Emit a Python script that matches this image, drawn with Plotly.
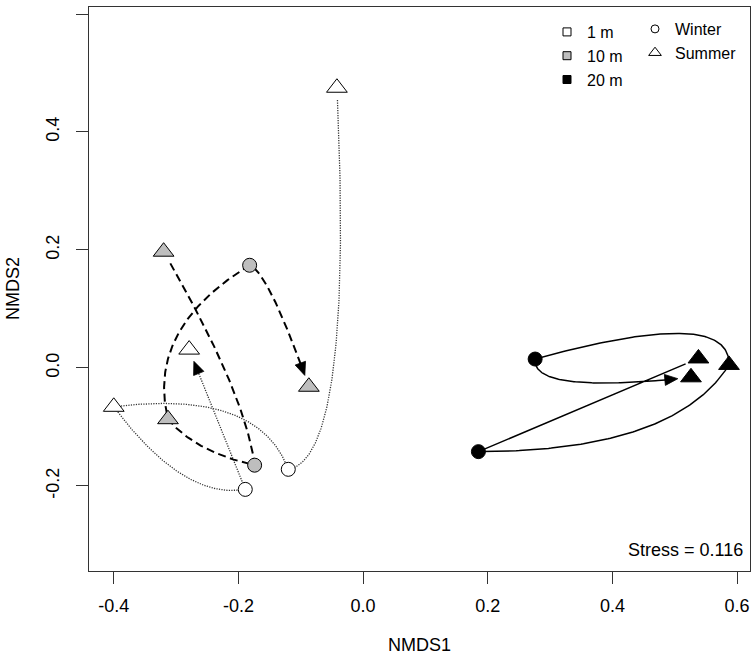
import numpy as np
import plotly.graph_objects as go

# ---------------- data (sampling order: Summer, Winter, Summer, Winter, Summer) ----------------
seasons = ["Summer", "Winter", "Summer", "Winter", "Summer"]
depths = ["1 m", "10 m", "20 m"]

x_1m = [-0.042, -0.120, -0.400, -0.189, -0.279]
y_1m = [0.475, -0.172, -0.066, -0.206, 0.031]

x_10m = [-0.320, -0.174, -0.313, -0.182, -0.087]
y_10m = [0.197, -0.165, -0.087, 0.174, -0.032]

x_20m = [0.538, 0.185, 0.587, 0.276, 0.526]
y_20m = [0.016, -0.142, 0.005, 0.015, -0.016]

stress = 0.116
x_ticks = [-0.4, -0.2, 0.0, 0.2, 0.4, 0.6]
y_ticks = [-0.2, 0.0, 0.2, 0.4, 0.6]

# ---------------- style: bend of each curved connector (px, + = left of travel) and skew ----
bend_1m = [(32, 0.95), (-33, 0.3), (-21, 0.7), (0, 0.5)]
bend_10m = [(10, 0.7), (8, 0.6), (31, 0.4), (7, 0.1)]
bend_20m = [(0, 0.5), (-32, 0.7), (-30, 0.0), (-18, 0.0)]

# ---------------- layout constants ----------------
W, H = 756, 657
ML, MR, MT, MB = 89, 6, 7, 86
XR = [-0.4397, 0.6207]
YR = [-0.3444, 0.6119]
PW, PH = W - ML - MR, H - MT - MB
SX = PW / (XR[1] - XR[0])
SY = PH / (YR[1] - YR[0])
FONT = "Liberation Sans, Arial, Helvetica, sans-serif"
GRAY = "#bebebe"
HEAD_LEN, HEAD_W = 13, 11


def connector(xs, ys, bends, n=120):
    # work in screen-like units (x right, y down)
    P = np.column_stack([np.asarray(xs) * SX, -np.asarray(ys) * SY])
    pts = []
    for i, (dev, f) in enumerate(bends):
        p0, p1 = P[i], P[i + 1]
        d = p1 - p0
        L = np.hypot(*d)
        nl = np.array([d[1], -d[0]]) / L
        q = p0 + f * d + 2 * dev * nl
        t = np.linspace(0, 1, n, endpoint=(i == len(bends) - 1))[:, None]
        pts.append((1 - t) ** 2 * p0 + 2 * t * (1 - t) * q + t ** 2 * p1)
    return np.vstack(pts)  # screen-like px


def to_data(p):
    return p[:, 0] / SX, -p[:, 1] / SY


fig = go.Figure()

series = [
    (x_1m, y_1m, bend_1m, "white", dict(color="#333333", width=1.3, dash="1.2px,1.3px")),
    (x_10m, y_10m, bend_10m, GRAY, dict(color="black", width=2, dash="8px,4.5px")),
    (x_20m, y_20m, bend_20m, "#000000", dict(color="black", width=1.5)),
]

for xs, ys, bends, fill, line in series:
    p = connector(xs, ys, bends)
    s = np.concatenate([[0], np.cumsum(np.hypot(*np.diff(p, axis=0).T))])
    L = s[-1]
    keep = (s >= 12) & (s <= L - 12)
    p, s = p[keep], s[keep]
    tip = p[-1]
    back = p[int(np.argmin(np.abs(s - (s[-1] - HEAD_LEN))))]
    u = (tip - back) / np.hypot(*(tip - back))
    nrm = np.array([-u[1], u[0]])
    base = tip - HEAD_LEN * u
    head = np.array([tip, base + nrm * HEAD_W / 2, base - nrm * HEAD_W / 2, tip])
    body = p[s <= s[-1] - HEAD_LEN + 2]
    bx, by = to_data(body)
    fig.add_trace(go.Scatter(x=bx, y=by, mode="lines", line=line,
                             hoverinfo="skip", showlegend=False))
    hx, hy = to_data(head)
    fig.add_trace(go.Scatter(x=hx, y=hy, mode="lines", fill="toself",
                             fillcolor="#000000", line=dict(color="#000000", width=0.8),
                             hoverinfo="skip", showlegend=False))

for xs, ys, bends, fill, line in series:
    syms = ["circle" if se == "Winter" else "triangle-up" for se in seasons]
    sizes = [14 if se == "Winter" else 18 for se in seasons]
    fig.add_trace(go.Scatter(
        x=xs, y=ys, mode="markers",
        marker=dict(symbol=syms, size=sizes, color=fill, opacity=1,
                    line=dict(color="black", width=1)),
        hoverinfo="skip", showlegend=False))

# legend entries
for name, fill in zip(depths, ["white", GRAY, "#000000"]):
    fig.add_trace(go.Scatter(
        x=[None], y=[None], mode="markers", name=name, legend="legend",
        marker=dict(symbol="square", size=8, color=fill,
                    line=dict(color="black", width=1))))
for name, sym, sz in [("Winter", "circle", 8), ("Summer", "triangle-up", 11)]:
    fig.add_trace(go.Scatter(
        x=[None], y=[None], mode="markers", name=name, legend="legend2",
        marker=dict(symbol=sym, size=sz, color="white",
                    line=dict(color="black", width=1))))

axis_common = dict(
    showgrid=False, zeroline=False, showline=True, mirror=True, automargin=False,
    linecolor="#333333", linewidth=1.2, ticks="outside", ticklen=12,
    tickwidth=1, tickcolor="#333333",
    tickfont=dict(family=FONT, size=18, color="black"),
)

fig.update_layout(
    width=W, height=H,
    margin=dict(l=ML, r=MR, t=MT, b=MB, autoexpand=False),
    paper_bgcolor="white", plot_bgcolor="white",
    xaxis=dict(range=XR, tickvals=x_ticks, ticktext=[f"{v:.1f}" for v in x_ticks],
               ticklabelstandoff=6, **axis_common),
    yaxis=dict(range=YR, tickvals=y_ticks, ticktext=[f"{v:.1f}" for v in y_ticks],
               tickangle=-90, ticklabelstandoff=10, **axis_common),
    legend=dict(x=(547 - ML) / PW, y=1 - (15 - MT) / PH,
                xanchor="left", yanchor="top", bgcolor="rgba(0,0,0,0)",
                font=dict(family=FONT, size=16, color="black"), tracegroupgap=0),
    legend2=dict(x=(635 - ML) / PW, y=1 - (12 - MT) / PH,
                 xanchor="left", yanchor="top", bgcolor="rgba(0,0,0,0)",
                 font=dict(family=FONT, size=16, color="black"), tracegroupgap=0),
    annotations=[
        dict(text=f"Stress = {stress}", xref="paper", yref="paper",
             x=1, y=0, xanchor="right", yanchor="middle", xshift=-5, yshift=21,
             showarrow=False, font=dict(family=FONT, size=18, color="black")),
        dict(text="NMDS1", xref="paper", yref="paper", x=0.5, y=0,
             xanchor="center", yanchor="middle", yshift=-74, showarrow=False,
             font=dict(family=FONT, size=18, color="black")),
        dict(text="NMDS2", xref="paper", yref="paper", x=0, y=0.5, textangle=-90,
             xanchor="center", yanchor="middle", xshift=-76, showarrow=False,
             font=dict(family=FONT, size=18, color="black")),
    ],
)

fig.write_html("out.html", config={"displayModeBar": False},
               post_script="document.body.style.margin='0px';")
